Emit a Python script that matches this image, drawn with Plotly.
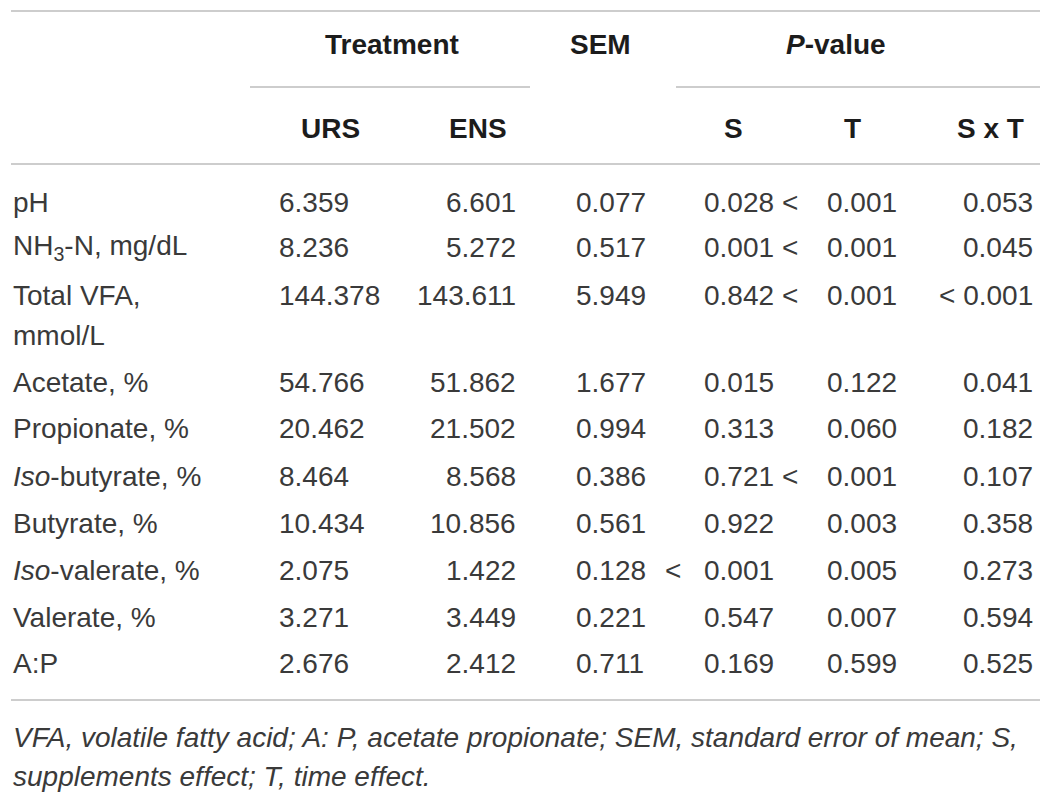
import plotly.graph_objects as go

# table content
row_labels = ["pH", "NH<sub>3</sub>-N, mg/dL", "Total VFA,<br>mmol/L", "Acetate, %",
              "Propionate, %", "<i>Iso</i>-butyrate, %", "Butyrate, %",
              "<i>Iso</i>-valerate, %", "Valerate, %", "A:P"]
urs = ["6.359", "8.236", "144.378", "54.766", "20.462", "8.464", "10.434", "2.075", "3.271", "2.676"]
ens = ["6.601", "5.272", "143.611", "51.862", "21.502", "8.568", "10.856", "1.422", "3.449", "2.412"]
sem = ["0.077", "0.517", "5.949", "1.677", "0.994", "0.386", "0.561", "0.128", "0.221", "0.711"]
p_s = ["0.028", "0.001", "0.842", "0.015", "0.313", "0.721", "0.922", "< 0.001", "0.547", "0.169"]
p_t = ["< 0.001", "< 0.001", "< 0.001", "0.122", "0.060", "< 0.001", "0.003", "0.005", "0.007", "0.599"]
p_sxt = ["0.053", "0.045", "< 0.001", "0.041", "0.182", "0.107", "0.358", "0.273", "0.594", "0.525"]

group_headers = ["Treatment", "SEM", "<i>P</i>-value"]
sub_headers = ["URS", "ENS", "S", "T", "S x T"]
footnote = ["VFA, volatile fatty acid; A: P, acetate propionate; SEM, standard error of mean; S,",
            "supplements effect; T, time effect."]

# the page body keeps its 8px margin, so axes are set in window pixels
W, H = 1051, 793
PAD = 8
FONT = "'Liberation Sans', Arial, Helvetica, sans-serif"
TXT = "#3a3a3a"
HEAD = "#1c1c1c"
LINE = "#bdbdbd"
FS = 28

row_y = [202, 247, 295, 382, 428, 476, 523, 570, 617, 663]

fig = go.Figure()
fig.add_trace(go.Scatter(x=[PAD, W], y=[PAD, H], mode="markers",
                         marker=dict(opacity=0), hoverinfo="skip", showlegend=False))


def txt(x, y, s, anchor="left", bold=False, italic=False):
    fig.add_annotation(x=x, y=y, xref="x", yref="y", text=s, showarrow=False,
                       xanchor=anchor, yanchor="middle", align="left",
                       font=dict(family=FONT, size=FS, color=HEAD if bold else TXT,
                                 weight=700 if bold else 400,
                                 style="italic" if italic else "normal"))


def pval(x_left, y, s, lt_right):
    if s.startswith("<"):
        txt(lt_right, y, "&lt;", anchor="right")
        txt(x_left, y, s[1:].strip())
    else:
        txt(x_left, y, s)


# header
txt(392, 44, group_headers[0], "center", bold=True)
txt(600, 44, group_headers[1], "center", bold=True)
txt(836, 44, group_headers[2], "center", bold=True)
for x, s in zip([330, 478, 733, 852, 990], sub_headers):
    txt(x, 128, s, "center", bold=True)

for i, y in enumerate(row_y):
    lab = row_labels[i]
    if "<br>" in lab:
        a, b = lab.split("<br>")
        txt(11, y, a)
        txt(11, y + 40, b)
    else:
        txt(11, y, lab)
    txt(277, y, urs[i])
    txt(518, y, ens[i], anchor="right")
    txt(574, y, sem[i])
    pval(702, y, p_s[i], lt_right=683)
    pval(825, y, p_t[i], lt_right=800)
    txt(1035, y, p_sxt[i].replace("<", "&lt;"), anchor="right")

txt(11, 737, footnote[0], italic=True)
txt(11, 776, footnote[1], italic=True)

# rules
for x0, x1, y in [(11, 1040, 11), (250, 530, 87), (676, 1040, 87), (11, 1040, 164), (11, 1040, 700)]:
    fig.add_shape(type="line", x0=x0, x1=x1, y0=y, y1=y, xref="x", yref="y",
                  line=dict(color=LINE, width=1.5))

fig.update_xaxes(range=[PAD, W], visible=False, fixedrange=True)
fig.update_yaxes(range=[H, PAD], visible=False, fixedrange=True)
fig.update_layout(width=W - PAD, height=H - PAD, margin=dict(l=0, r=0, t=0, b=0),
                  paper_bgcolor="white", plot_bgcolor="white", showlegend=False)

fig.write_html("out.html")
